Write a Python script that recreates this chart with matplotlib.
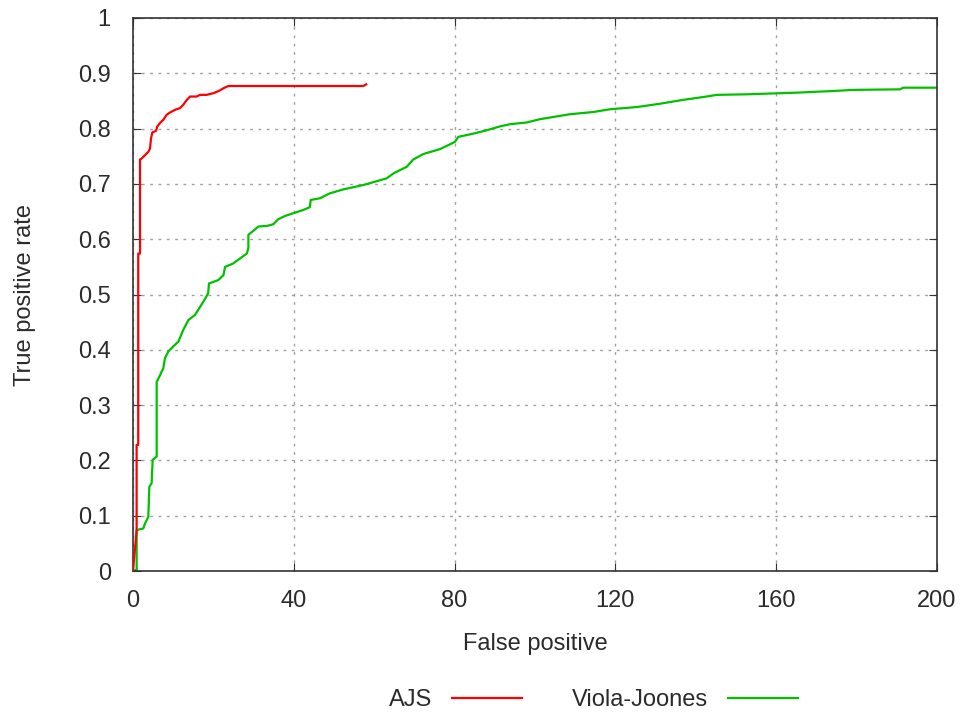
import matplotlib
matplotlib.use('Agg')
import matplotlib.pyplot as plt

# AJS curve (false positives vs true positive rate)
ajs_fp = [0, 0.9, 0.9, 1.3, 1.3, 1.75, 1.75, 2.16, 2.99, 3.81, 4.23, 4.48, 4.81, 5.72, 6.05,
          6.72, 7.55, 8.38, 9.2, 10.45, 11.7, 12.5, 13.4, 14.2, 15.8, 16.7, 18.3, 20.0,
          21.6, 22.5, 23.7, 57.3, 58.0]
ajs_tpr = [0, 0.074, 0.228, 0.228, 0.574, 0.574, 0.744, 0.746, 0.752, 0.758, 0.764, 0.782,
           0.793, 0.796, 0.804, 0.810, 0.816, 0.825, 0.829, 0.834, 0.837, 0.843, 0.852,
           0.858, 0.858, 0.861, 0.861, 0.864, 0.869, 0.873, 0.877, 0.877, 0.880]

# Viola-Joones curve
vj_fp = [0, 0.91, 0.91, 2.57, 2.99, 3.81, 4.06, 4.64, 4.89, 5.89, 5.89, 6.72, 7.55, 7.96, 8.79,
         10.0, 11.3, 12.5, 13.8, 15.4, 16.2, 17.5, 18.7, 18.9, 21.2, 22.5, 22.9, 24.9, 26.6,
         28.3, 28.7, 28.7, 29.9, 31.2, 33.3, 34.9, 36.1, 37.8, 39.9, 42.4, 44.0, 44.2, 46.5,
         49.0, 52.3, 57.3, 63.1, 64.8, 68.1, 69.7, 72.2, 76.4, 80.1, 80.9, 84.7, 88.0, 91.3,
         93.8, 97.9, 101.2, 103.7, 108.7, 114.5, 118.7, 125.4, 131.1, 136.9, 142.7, 145.2,
         152.7, 165.1, 174.2, 179.2, 190.8, 191.6, 200]
vj_tpr = [0, 0.002, 0.074, 0.077, 0.086, 0.098, 0.152, 0.159, 0.201, 0.207, 0.342, 0.354,
          0.367, 0.385, 0.397, 0.406, 0.415, 0.436, 0.454, 0.463, 0.472, 0.487, 0.502, 0.520,
          0.526, 0.535, 0.550, 0.556, 0.565, 0.574, 0.584, 0.608, 0.615, 0.623, 0.624, 0.627,
          0.636, 0.642, 0.647, 0.653, 0.658, 0.671, 0.674, 0.683, 0.690, 0.698, 0.710, 0.719,
          0.731, 0.744, 0.754, 0.763, 0.776, 0.785, 0.791, 0.797, 0.804, 0.808, 0.811, 0.817,
          0.820, 0.826, 0.830, 0.835, 0.839, 0.845, 0.852, 0.858, 0.861, 0.862, 0.865, 0.868,
          0.870, 0.871, 0.874, 0.874]

x_ticks = [0, 40, 80, 120, 160, 200]
y_ticks = [0, 0.1, 0.2, 0.3, 0.4, 0.5, 0.6, 0.7, 0.8, 0.9, 1]
y_labels = ['0', '0.1', '0.2', '0.3', '0.4', '0.5', '0.6', '0.7', '0.8', '0.9', '1']

plt.rcParams['font.family'] = ['Liberation Sans', 'DejaVu Sans']
txt = '#2b2b2b'
fs = 17

fig = plt.figure(figsize=(9.63, 7.15), dpi=100)
ax = fig.add_axes([133/963, 1 - 571/715, (937 - 133)/963, (571 - 18)/715])

ax.plot(ajs_fp, ajs_tpr, c='#ff0000', lw=1.6, label='AJS', zorder=3)
ax.plot(vj_fp, vj_tpr, c='#00c000', lw=1.6, label='Viola-Joones', zorder=2)

ax.set_xlim(0, 200)
ax.set_ylim(0, 1)
ax.set_xticks(x_ticks)
ax.set_yticks(y_ticks)
ax.set_yticklabels(y_labels)
ax.tick_params(direction='in', top=True, right=True, length=6, width=0.8,
               labelsize=fs, labelcolor=txt, color='#333333')
ax.tick_params(axis='y', pad=16)
ax.tick_params(axis='x', pad=14)
ax.grid(True, color='#a0a0a0', linestyle=(0, (2, 4)), lw=1)
for s in ax.spines.values():
    s.set_color('#333333')
    s.set_linewidth(1.2)

ax.set_xlabel('False positive', fontsize=fs, color=txt)
ax.set_ylabel('True positive rate', fontsize=fs, color=txt)
ax.xaxis.set_label_coords(0.5, (571 - 633) / 553)
ax.yaxis.set_label_coords((36 - 133) / 804, 0.5)

fig.legend(loc='center', bbox_to_anchor=(0.616, 1 - 700/715), ncol=2, frameon=False,
           markerfirst=False, fontsize=fs, handlelength=2.97, handletextpad=0.85,
           columnspacing=2.1, labelcolor=txt)

fig.savefig('out.png', dpi=100)
